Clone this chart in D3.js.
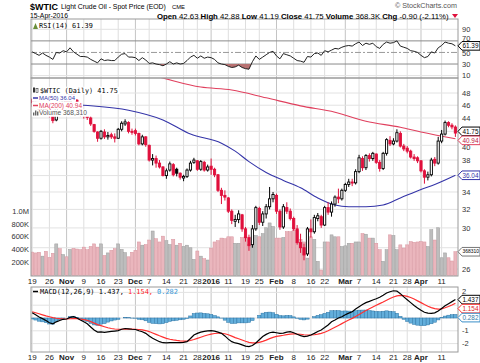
<!DOCTYPE html>
<html>
<head>
<meta charset="utf-8">
<script src="https://cdn.jsdelivr.net/npm/d3@7"></script>
<style>
  body { margin: 0; background: #fff; }
  svg { display: block; font-family: Arial, "Liberation Sans", sans-serif; }
</style>
</head>
<body>
<div id="chart"></div>
<script>
// trading days shown on the chart
const dates = [
  "2015-10-19","2015-10-20","2015-10-21","2015-10-22","2015-10-23","2015-10-26","2015-10-27","2015-10-28","2015-10-29","2015-10-30",
  "2015-11-02","2015-11-03","2015-11-04","2015-11-05","2015-11-06","2015-11-09","2015-11-10","2015-11-11","2015-11-12","2015-11-13",
  "2015-11-16","2015-11-17","2015-11-18","2015-11-19","2015-11-20","2015-11-23","2015-11-24","2015-11-25","2015-11-27","2015-11-30",
  "2015-12-01","2015-12-02","2015-12-03","2015-12-04","2015-12-07","2015-12-08","2015-12-09","2015-12-10","2015-12-11","2015-12-14",
  "2015-12-15","2015-12-16","2015-12-17","2015-12-18","2015-12-21","2015-12-22","2015-12-23","2015-12-24","2015-12-28","2015-12-29",
  "2015-12-30","2015-12-31","2016-01-04","2016-01-05","2016-01-06","2016-01-07","2016-01-08","2016-01-11","2016-01-12","2016-01-13",
  "2016-01-14","2016-01-15","2016-01-19","2016-01-20","2016-01-21","2016-01-22","2016-01-25","2016-01-26","2016-01-27","2016-01-28",
  "2016-01-29","2016-02-01","2016-02-02","2016-02-03","2016-02-04","2016-02-05","2016-02-08","2016-02-09","2016-02-10","2016-02-11",
  "2016-02-12","2016-02-16","2016-02-17","2016-02-18","2016-02-19","2016-02-22","2016-02-23","2016-02-24","2016-02-25","2016-02-26",
  "2016-02-29","2016-03-01","2016-03-02","2016-03-03","2016-03-04","2016-03-07","2016-03-08","2016-03-09","2016-03-10","2016-03-11",
  "2016-03-14","2016-03-15","2016-03-16","2016-03-17","2016-03-18","2016-03-21","2016-03-22","2016-03-23","2016-03-24","2016-03-28",
  "2016-03-29","2016-03-30","2016-03-31","2016-04-01","2016-04-04","2016-04-05","2016-04-06","2016-04-07","2016-04-08","2016-04-11",
  "2016-04-12","2016-04-13","2016-04-14","2016-04-15"
];

const open = [
  46.9, 46.4, 45.9, 45.2, 45.8, 45.0, 44.3, 43.7, 46.3, 46.0,
  46.9, 46.5, 48.1, 46.8, 45.6, 44.5, 44.4, 44.0, 43.0, 41.9,
  41.0, 41.9, 41.2, 41.5, 41.2, 41.0, 42.3, 43.1, 43.3, 42.0,
  42.1, 41.7, 40.2, 41.2, 40.0, 38.0, 38.2, 37.6, 37.1, 36.0,
  36.7, 37.4, 36.8, 36.3, 35.7, 35.9, 36.7, 37.7, 37.9, 36.8,
  37.7, 36.7, 37.2, 36.8, 36.1, 34.2, 33.6, 33.3, 31.8, 30.7,
  30.9, 31.4, 29.9, 29.0, 28.3, 29.9, 32.1, 30.6, 31.5, 32.3,
  33.2, 33.6, 31.8, 30.1, 32.2, 31.8, 31.0, 29.9, 28.5, 28.0,
  27.4, 29.9, 29.6, 31.0, 31.2, 30.3, 32.2, 31.7, 32.6, 33.4,
  33.2, 34.2, 34.9, 35.2, 35.1, 36.5, 38.2, 37.0, 38.6, 38.2,
  38.8, 37.7, 36.9, 38.9, 40.7, 40.2, 40.6, 41.7, 39.9, 39.6,
  39.2, 38.4, 38.3, 37.9, 36.6, 35.8, 36.1, 38.1, 37.6, 40.6,
  41.6, 43.3, 42.9, 42.63
];
const high = [
  47.2, 46.6, 46.1, 46.1, 46.0, 45.2, 44.5, 46.5, 46.6, 47.1,
  47.2, 48.4, 48.2, 47.0, 45.8, 45.0, 44.6, 44.2, 43.1, 42.0,
  42.2, 42.3, 41.9, 41.8, 41.7, 42.5, 43.5, 43.8, 43.5, 42.4,
  42.4, 41.8, 41.5, 41.3, 40.1, 38.8, 38.6, 38.0, 37.2, 36.9,
  37.8, 37.6, 37.0, 36.4, 36.1, 36.9, 37.9, 38.3, 38.0, 38.0,
  37.9, 37.4, 38.2, 37.0, 36.2, 34.5, 34.2, 33.4, 32.0, 31.4,
  31.9, 31.5, 30.1, 29.3, 30.3, 32.4, 32.3, 31.8, 32.6, 34.6,
  34.0, 33.8, 32.0, 32.6, 32.8, 32.1, 31.2, 30.3, 29.4, 28.4,
  30.1, 30.9, 31.4, 31.6, 31.4, 32.4, 32.8, 32.9, 33.6, 34.4,
  34.4, 35.1, 35.6, 35.6, 36.8, 38.7, 38.5, 38.8, 38.9, 39.1,
  38.9, 38.0, 39.1, 41.0, 41.3, 41.0, 42.3, 42.0, 40.2, 39.9,
  39.4, 38.8, 38.5, 38.0, 36.8, 36.5, 38.3, 38.4, 41.2, 42.2,
  43.6, 43.5, 43.2, 42.88
];
const low = [
  45.7, 45.5, 44.9, 44.9, 44.8, 44.1, 43.2, 43.5, 45.7, 45.9,
  46.2, 46.3, 46.7, 45.5, 44.2, 43.9, 43.7, 42.8, 41.8, 40.5,
  40.8, 40.9, 40.8, 40.9, 40.4, 40.9, 42.0, 42.8, 41.7, 41.5,
  41.4, 40.0, 40.0, 39.8, 37.8, 37.3, 37.0, 36.9, 35.9, 35.6,
  36.5, 35.9, 35.9, 35.5, 35.3, 35.7, 36.5, 37.5, 36.6, 36.6,
  36.5, 36.5, 36.1, 35.8, 34.0, 32.6, 33.0, 31.6, 30.4, 30.1,
  30.5, 29.6, 28.6, 27.7, 28.0, 29.7, 30.3, 30.2, 31.0, 32.0,
  32.8, 31.5, 29.8, 29.9, 31.5, 30.8, 29.7, 28.3, 27.5, 26.8,
  27.2, 29.0, 29.4, 30.7, 30.0, 30.2, 31.4, 31.2, 32.3, 32.7,
  33.0, 34.0, 34.6, 34.7, 34.9, 36.3, 36.6, 36.7, 37.8, 37.9,
  37.5, 36.5, 36.7, 38.6, 39.9, 40.0, 40.4, 39.7, 39.2, 38.9,
  38.2, 37.9, 37.6, 36.4, 35.0, 35.4, 35.9, 37.2, 37.4, 40.3,
  41.4, 42.6, 42.3, 41.19
];
const close = [
  46.4, 45.8, 45.2, 45.9, 45.1, 44.4, 43.6, 46.3, 46.1, 46.9,
  46.6, 48.3, 46.9, 45.7, 44.6, 44.5, 44.1, 43.1, 42.0, 41.0,
  42.0, 41.2, 41.4, 41.2, 41.0, 42.3, 43.2, 43.4, 42.0, 41.9,
  41.7, 40.2, 41.2, 40.1, 38.0, 38.2, 37.6, 37.1, 36.0, 36.6,
  37.5, 36.1, 36.3, 35.8, 35.9, 36.7, 37.6, 38.0, 36.8, 37.8,
  36.7, 37.1, 36.8, 36.1, 34.2, 33.6, 33.4, 31.8, 30.8, 30.9,
  31.5, 29.9, 29.0, 28.2, 29.9, 32.2, 30.6, 31.5, 32.3, 33.2,
  33.7, 31.8, 30.1, 32.3, 31.8, 31.0, 29.9, 28.5, 28.0, 27.3,
  29.9, 29.6, 31.1, 31.3, 30.3, 32.2, 31.7, 32.6, 33.4, 33.2,
  34.2, 34.9, 35.2, 35.1, 36.5, 38.3, 37.0, 38.6, 38.2, 38.9,
  37.7, 36.9, 38.9, 40.8, 40.2, 40.6, 41.8, 39.9, 39.5, 39.2,
  38.4, 38.2, 37.9, 36.6, 35.8, 36.1, 38.0, 37.6, 40.6, 41.6,
  43.3, 42.9, 42.65, 41.75
];
// volume in thousands
const volume = [
  363, 350, 360, 300, 375, 280, 345, 490, 415, 325,
  290, 405, 420, 410, 400, 440, 400, 450, 490, 440,
  490, 310, 350, 390, 415, 490, 405, 355, 290, 360,
  390, 520, 470, 480, 550, 690, 570, 520, 610, 540,
  480, 560, 470, 500, 450, 470, 430, 250, 380, 300,
  260, 240, 425, 520, 540, 580, 570, 600, 600, 500,
  500, 590, 600, 480, 600, 620, 600, 650, 740, 815,
  760, 580, 580, 590, 680, 680, 700, 700, 560, 520,
  270, 600, 560, 220, 85, 520, 520, 630, 600, 600,
  450, 460, 500, 500, 520, 520, 650, 640, 580, 580,
  500, 400, 220, 400, 630, 620, 400, 475, 425, 475,
  525, 515, 520, 525, 520, 450, 710, 550, 740, 275,
  350, 275, 225, 368.31
];

// moving averages read at selected days
const ma50Dates = ["2015-10-19","2015-11-09","2015-11-27","2015-12-11","2015-12-23","2016-01-07","2016-01-13","2016-01-20","2016-01-27","2016-02-03","2016-02-10","2016-02-18","2016-02-25","2016-03-02","2016-03-09","2016-03-16","2016-03-23","2016-04-01","2016-04-07","2016-04-15"];
const ma50 = [46.5, 46.0, 45.2, 43.7, 41.6, 40.3, 39.2, 37.8, 36.4, 35.4, 34.5, 33.3, 32.5, 32.3, 32.3, 32.5, 33.3, 34.3, 34.9, 36.04];
const ma200Dates = ["2015-10-19","2015-11-16","2015-12-08","2015-12-29","2016-01-12","2016-01-27","2016-02-10","2016-02-25","2016-03-09","2016-03-23","2016-04-01","2016-04-15"];
const ma200 = [54.5, 52.6, 51.0, 49.0, 48.5, 47.2, 45.9, 44.9, 43.5, 42.6, 41.9, 40.94];

const rsi = [
  51, 48, 45, 49, 45, 42, 38, 50, 49, 53,
  51, 58, 51, 47, 43, 43, 42, 38, 35, 32,
  39, 36, 37, 36, 36, 42, 47, 48, 42, 42,
  41, 36, 41, 37, 31, 32, 30, 29, 27, 30,
  34, 30, 32, 30, 31, 36, 42, 45, 40, 44,
  40, 42, 41, 38, 32, 30, 29, 26, 24, 25,
  28, 24, 22, 21, 34, 44, 38, 42, 46, 50,
  52, 44, 39, 48, 46, 44, 40, 36, 35, 33,
  43, 42, 48, 49, 45, 53, 51, 54, 57, 56,
  59, 61, 62, 61, 65, 68, 62, 66, 64, 66,
  60, 57, 64, 68, 66, 67, 70, 61, 59, 57,
  53, 52, 50, 45, 41, 43, 51, 49, 58, 62,
  68, 66, 65, 61.39
];
const macd = [
  0.41, 0.25, 0.08, -0.05, -0.2, -0.37, -0.45, -0.3, -0.2, -0.1,
  -0.08, 0.05, 0.1, 0.0, -0.16, -0.3, -0.45, -0.7, -0.94, -1.1,
  -1.08, -1.12, -1.08, -1.05, -1.02, -0.99, -0.88, -0.82, -0.85, -0.88,
  -0.9, -1.0, -1.07, -1.2, -1.4, -1.59, -1.72, -1.85, -1.93, -1.95,
  -1.92, -1.93, -1.93, -1.92, -1.9, -1.85, -1.6, -1.33, -1.2, -1.1,
  -1.05, -1.0, -0.98, -1.02, -1.1, -1.2, -1.4, -1.65, -1.85, -1.95,
  -2.0, -2.1, -2.2, -2.24, -2.15, -1.95, -1.7, -1.45, -1.28, -1.15,
  -1.1, -1.15, -1.2, -1.18, -1.1, -1.07, -1.15, -1.27, -1.38, -1.46,
  -1.42, -1.33, -1.2, -1.05, -0.94, -0.75, -0.55, -0.29, -0.15, 0.0,
  0.1, 0.25, 0.38, 0.49, 0.7, 0.88, 1.05, 1.2, 1.3, 1.41,
  1.5, 1.62, 1.78, 1.95, 2.05, 2.13, 2.1, 1.9, 1.65, 1.42,
  1.2, 0.98, 0.78, 0.6, 0.45, 0.38, 0.36, 0.4, 0.55, 0.75,
  0.95, 1.12, 1.28, 1.437
];
const signal = [
  0.49, 0.41, 0.33, 0.25, 0.17, 0.1, 0.03, -0.02, -0.05, -0.07,
  -0.08, -0.06, -0.04, -0.05, -0.08, -0.12, -0.18, -0.28, -0.4, -0.52,
  -0.6, -0.68, -0.76, -0.82, -0.86, -0.88, -0.88, -0.87, -0.87, -0.87,
  -0.88, -0.9, -0.93, -0.98, -1.06, -1.17, -1.28, -1.39, -1.49, -1.59,
  -1.66, -1.71, -1.75, -1.78, -1.8, -1.8, -1.76, -1.68, -1.59, -1.5,
  -1.41, -1.33, -1.26, -1.21, -1.19, -1.19, -1.23, -1.31, -1.42, -1.53,
  -1.62, -1.72, -1.82, -1.9, -1.95, -1.95, -1.91, -1.83, -1.73, -1.61,
  -1.51, -1.44, -1.39, -1.35, -1.3, -1.26, -1.24, -1.25, -1.27, -1.31,
  -1.33, -1.33, -1.31, -1.26, -1.2, -1.11, -1.0, -0.86, -0.72, -0.58,
  -0.44, -0.3, -0.16, -0.03, 0.12, 0.27, 0.43, 0.58, 0.72, 0.86,
  0.99, 1.12, 1.25, 1.39, 1.52, 1.64, 1.73, 1.77, 1.75, 1.69,
  1.6, 1.48, 1.34, 1.2, 1.05, 0.92, 0.81, 0.73, 0.7, 0.71,
  0.8, 0.9, 1.02, 1.154
];

const tickDates = ["2015-10-19","2015-10-26","2015-11-02","2015-11-09","2015-11-16","2015-11-23","2015-12-01","2015-12-07","2015-12-14","2015-12-21","2015-12-28","2016-01-04","2016-01-11","2016-01-19","2016-01-25","2016-02-01","2016-02-08","2016-02-16","2016-02-22","2016-03-01","2016-03-07","2016-03-14","2016-03-21","2016-03-28","2016-04-01","2016-04-11"];
const tickText = ["19","26","Nov","9","16","23","Dec","7","14","21","28","2016","11","19","25","Feb","8","16","22","Mar","7","14","21","28","Apr","11"];
const monthTicks = ["Nov","Dec","2016","Feb","Mar","Apr"];
const priceTicks = [26, 28, 30, 32, 34, 36, 38, 40, 42, 44, 46, 48];
const volTicks = [200, 400, 600, 800, 1000];
const volTickText = ["200K", "400K", "600K", "800K", "1.0M"];
const rsiTicks = [10, 30, 50, 70, 90];
const macdTicks = [-2, -1, 0, 1, 2];

const width = 480, height = 363;
const left = 31, right = 458;
const rsiP = { top: 19, bottom: 78 },
      priceP = { top: 78, bottom: 276 },
      macdP = { top: 287, bottom: 352 };

const svg = d3.select("#chart").append("svg")
    .attr("width", width)
    .attr("height", height)
    .attr("viewBox", [0, 0, width, height]);

const x = d3.scalePoint().domain(dates).range([32.2, 455.4]);
const y = d3.scaleLog().domain([26, 48]).range([269, 93]);
const yVol = d3.scaleLinear().domain([0, 1000]).range([275.5, 211]);
const yRsi = d3.scaleLinear().domain([10, 90]).range([75.6, 29.3]);
const yMacd = d3.scaleLinear().domain([-2, 2]).range([343.6, 292.4]);
const step = x.step();

const defs = svg.append("defs");
function clip(id, p) {
    defs.append("clipPath").attr("id", id)
        .append("rect").attr("x", left).attr("y", p.top).attr("width", right - left).attr("height", p.bottom - p.top);
}
clip("cRsi", rsiP); clip("cPrice", priceP); clip("cMacd", macdP);

// vertical grid in all panels
[rsiP, priceP, macdP].forEach(p => {
    svg.append("g").selectAll("line").data(tickDates).join("line")
        .attr("x1", d => x(d)).attr("x2", d => x(d))
        .attr("y1", p.top).attr("y2", p.bottom)
        .attr("stroke", (d, i) => monthTicks.includes(tickText[i]) ? "#c4c4c4" : "#dedede")
        .attr("stroke-width", 1);
});

// ---------- RSI panel ----------
svg.append("g").selectAll("line").data(rsiTicks).join("line")
    .attr("x1", left).attr("x2", right)
    .attr("y1", d => yRsi(d)).attr("y2", d => yRsi(d))
    .attr("stroke", d => (d === 70 || d === 30) ? "#8a8a8a" : (d === 50 ? "#999" : "#e2e2e2"))
    .attr("stroke-dasharray", d => d === 50 ? "6,2,2,2" : null);

const rsiLine = d3.line().x((d, i) => x(dates[i])).y(d => yRsi(d));
defs.append("clipPath").attr("id", "cRsiLow")
    .append("rect").attr("x", left).attr("y", yRsi(30)).attr("width", right - left).attr("height", rsiP.bottom - yRsi(30));
svg.append("path")
    .datum(rsi)
    .attr("clip-path", "url(#cRsiLow)")
    .attr("fill", "#b87272")
    .attr("d", d3.area().x((d, i) => x(dates[i])).y0(yRsi(30)).y1(d => yRsi(d)));
svg.append("path")
    .datum(rsi)
    .attr("clip-path", "url(#cRsi)")
    .attr("fill", "none")
    .attr("stroke", "#222")
    .attr("stroke-width", 1)
    .attr("d", rsiLine);

// ---------- price panel ----------
const pg = svg.append("g").attr("clip-path", "url(#cPrice)");
pg.selectAll(".hg").data(priceTicks).join("line")
    .attr("x1", left).attr("x2", right)
    .attr("y1", d => y(d)).attr("y2", d => y(d))
    .attr("stroke", "#e2e2e2");

const up = close.map((c, i) => i === 0 ? c >= open[0] : c >= close[i - 1]);

pg.selectAll(".vol").data(volume).join("rect")
    .attr("x", (d, i) => x(dates[i]) - step / 2 + 0.2)
    .attr("width", step - 0.4)
    .attr("y", d => yVol(d))
    .attr("height", d => yVol(0) - yVol(d))
    .attr("fill", (d, i) => up[i] ? "#bdbdbd" : "#eab6bd")
    .attr("stroke", (d, i) => up[i] ? "#9d9d9d" : "#d8949e")
    .attr("stroke-width", 0.5);

const maLine = (ds) => d3.line().curve(d3.curveMonotoneX).x((d, i) => x(ds[i])).y(d => y(d));
pg.append("path").datum(ma200).attr("fill", "none").attr("stroke", "#e0405e").attr("stroke-width", 1.1).attr("d", maLine(ma200Dates));
pg.append("path").datum(ma50).attr("fill", "none").attr("stroke", "#3434a8").attr("stroke-width", 1.1).attr("d", maLine(ma50Dates));

const candle = pg.selectAll(".candle").data(close).join("g").attr("class", "candle");
candle.append("line")
    .attr("x1", (d, i) => x(dates[i])).attr("x2", (d, i) => x(dates[i]))
    .attr("y1", (d, i) => y(high[i])).attr("y2", (d, i) => y(low[i]))
    .attr("stroke", (d, i) => up[i] ? "#000" : "#e0103c")
    .attr("stroke-width", 1);
candle.append("rect")
    .attr("x", (d, i) => x(dates[i]) - 1.1)
    .attr("width", 2.2)
    .attr("y", (d, i) => y(Math.max(open[i], d)))
    .attr("height", (d, i) => Math.max(1, Math.abs(y(open[i]) - y(d))))
    .attr("fill", (d, i) => d < open[i] ? (up[i] ? "#000" : "#e0103c") : "#fff")
    .attr("stroke", (d, i) => up[i] ? "#000" : "#e0103c")
    .attr("stroke-width", 0.9);

// ---------- MACD panel ----------
svg.append("g").selectAll("line").data(macdTicks).join("line")
    .attr("x1", left).attr("x2", right)
    .attr("y1", d => yMacd(d)).attr("y2", d => yMacd(d))
    .attr("stroke", "#e2e2e2");
const mg = svg.append("g").attr("clip-path", "url(#cMacd)");
// histogram = MACD minus signal
mg.selectAll(".hist").data(macd).join("rect")
    .attr("x", (d, i) => x(dates[i]) - step / 2)
    .attr("width", step)
    .attr("y", (d, i) => yMacd(Math.max(0, d - signal[i])))
    .attr("height", (d, i) => Math.abs(yMacd(d - signal[i]) - yMacd(0)))
    .attr("fill", "#62aedb")
    .attr("stroke", "#2f76a6")
    .attr("stroke-width", 0.5);
const mLine = d3.line().x((d, i) => x(dates[i])).y(d => yMacd(d));
mg.append("path").datum(signal).attr("fill", "none").attr("stroke", "#ff3030").attr("stroke-width", 1.2).attr("d", mLine);
mg.append("path").datum(macd).attr("fill", "none").attr("stroke", "#000").attr("stroke-width", 1.2).attr("d", mLine);

// panel borders
[rsiP, priceP, macdP].forEach(p => {
    svg.append("rect").attr("x", left).attr("y", p.top).attr("width", right - left).attr("height", p.bottom - p.top)
        .attr("fill", "none").attr("stroke", "#9a9a9a");
});

// ---------- value tags on the right (placed first so covered axis labels can be left out) ----------
function placeTags(list, pushDown) {
    list.sort((a, b) => a.y - b.y);
    for (let i = 1; i < list.length; i++) {
        if (list[i].y - list[i - 1].y < 9) {
            if (pushDown) {
                list[i].y = list[i - 1].y + 9;
            } else {
                const mid = (list[i].y + list[i - 1].y) / 2;
                list[i - 1].y = mid - 4.5; list[i].y = mid + 4.5;
            }
        }
    }
    return list;
}
const rsiTags = placeTags([{ y: yRsi(61.39), label: "61.39", color: "#000" }]);
const priceTags = placeTags([
    { y: y(41.75), label: "41.75", color: "#000" },
    { y: y(40.94), label: "40.94", color: "#e0405e", text: "#c02040" },
    { y: y(36.04), label: "36.04", color: "#3434a8", text: "#3434a8" },
    { y: yVol(368.31), label: "368310", color: "#777" }
]);
const macdTags = placeTags([
    { y: yMacd(1.437), label: "1.437", color: "#000" },
    { y: yMacd(1.154), label: "1.154", color: "#ff3030", text: "#e02020" },
    { y: yMacd(0.282), label: "0.282", color: "#3a8fc8", text: "#2f76a6" }
], true);

// ---------- axes labels ----------
// labels hidden under a tag are left out; labels just next to one are nudged clear of it
function rightLabels(ticks, scale, tagList) {
    const shown = ticks.filter(t => tagList.every(g => Math.abs(scale(t) - g.y) >= 4.4));
    const pos = t => {
        let yy = scale(t);
        tagList.forEach(g => {
            const dist = yy - g.y;
            if (Math.abs(dist) < 8) yy += Math.sign(dist) * Math.min(2.2, 8 - Math.abs(dist));
        });
        return yy;
    };
    svg.append("g").selectAll("text").data(shown).join("text")
        .attr("x", right + 4).attr("y", d => pos(d)).attr("dy", "0.35em")
        .attr("font-size", 7.5).attr("fill", "#333")
        .text(d => d);
}
rightLabels(rsiTicks, yRsi, rsiTags);
rightLabels(priceTicks, y, priceTags);
rightLabels(macdTicks, yMacd, macdTags);

svg.append("g").selectAll("text").data(volTicks).join("text")
    .attr("x", left - 2).attr("y", d => yVol(d)).attr("dy", "0.35em")
    .attr("text-anchor", "end").attr("font-size", 7.5).attr("fill", "#333")
    .text((d, i) => volTickText[i]);

[284, 360].forEach(yy => {
    svg.append("g").selectAll("text").data(tickDates).join("text")
        .attr("x", d => x(d)).attr("y", yy)
        .attr("text-anchor", "middle").attr("font-size", 8)
        .attr("font-weight", (d, i) => monthTicks.includes(tickText[i]) ? "bold" : "normal")
        .attr("fill", "#222")
        .text((d, i) => tickText[i]);
});

// draw the tags
function fit(t, w) {
    const l = t.node().getComputedTextLength();
    const s = +t.attr("font-size");
    if (l > 0) t.attr("font-size", s * w / l);
    return t;
}
[...rsiTags, ...priceTags, ...macdTags].forEach(t => {
    svg.append("path")
        .attr("d", `M${right},${t.y} L${right + 4},${t.y - 4.3} L${width},${t.y - 4.3} L${width},${t.y + 4.3} L${right + 4},${t.y + 4.3} Z`)
        .attr("fill", "#fff").attr("stroke", t.color).attr("stroke-width", 1);
    const tx = svg.append("text").attr("x", right + 4.5).attr("y", t.y).attr("dy", "0.35em")
        .attr("font-size", 7.5).attr("fill", t.text || "#000")
        .text(t.label);
    fit(tx, t.label.length > 5 ? 16.5 : 16);
});

// ---------- legends ----------
const mono = "'DejaVu Sans Mono', 'Liberation Mono', monospace";
function label(xx, yy, txt, w, opts = {}) {
    const t = svg.append("text").attr("x", xx).attr("y", yy).attr("dy", "0.35em")
        .attr("font-size", opts.size || 8)
        .attr("font-family", opts.mono ? mono : null)
        .attr("font-weight", opts.bold ? "bold" : null)
        .attr("fill", opts.color || "#000")
        .text(txt);
    if (w) fit(t, w);
    return t;
}
function bg(xx, yy, w) {
    svg.append("rect").attr("x", xx).attr("y", yy - 3.8).attr("width", w).attr("height", 7.6).attr("fill", "#fff");
}

// price legend with white background
bg(left + 1, 90.5, 88); bg(left + 1, 98, 44); bg(left + 1, 105.5, 51); bg(left + 1, 113, 57);
svg.append("rect").attr("x", 33).attr("y", 87.5).attr("width", 2).attr("height", 5).attr("fill", "#333");
svg.append("rect").attr("x", 36).attr("y", 88.5).attr("width", 2).attr("height", 4).attr("fill", "#fff").attr("stroke", "#333").attr("stroke-width", 0.6);
label(40, 90.5, "$WTIC (Daily) 41.75", 78, { mono: true });
svg.append("line").attr("x1", 33).attr("x2", 38).attr("y1", 98).attr("y2", 98).attr("stroke", "#3434a8").attr("stroke-width", 1.5);
label(39, 98, "MA(50) 36.04", 36, { color: "#3434a8" });
svg.append("line").attr("x1", 33).attr("x2", 38).attr("y1", 105.5).attr("y2", 105.5).attr("stroke", "#e0405e").attr("stroke-width", 1.5);
label(39, 105.5, "MA(200) 40.94", 43, { color: "#e0405e" });
[[33, 3], [35, 5], [37, 4]].forEach(b => svg.append("rect").attr("x", b[0]).attr("y", 115.5 - b[1]).attr("width", 1.4).attr("height", b[1]).attr("fill", "#666"));
label(39, 113, "Volume 368,310", 48, { color: "#555" });

// RSI legend
svg.append("path").attr("d", "M33,29 L35.5,23 L38,29 Z").attr("fill", "#6a8f3a");
label(39, 25.5, "RSI(14) 61.39", 54, { mono: true });

// MACD legend, pieces placed one after another
svg.append("line").attr("x1", 33).attr("x2", 38).attr("y1", 291.5).attr("y2", 291.5).attr("stroke", "#000").attr("stroke-width", 1.5);
const macdParts = [["MACD(12,26,9) 1.437,", "#000", 84], ["1.154,", "#ff2020", 25], ["0.282", "#3a9ad8", 21]];
let mx = 40;
macdParts.forEach(p => {
    label(mx, 291.5, p[0], p[2], { mono: true, color: p[1] });
    mx += p[2] + 4;
});

// ---------- header ----------
label(30, 6.5, "$WTIC", 28, { bold: true });
label(61, 6.5, "Light Crude Oil - Spot Price (EOD)", 105);
label(172, 7, "CME", 13);
label(395, 5.5, "© StockCharts.com", 62, { color: "#555" });
label(30, 16, "15-Apr-2016", 38);
const headParts = [
    ["Open", true], ["42.63", false], ["High", true], ["42.88", false],
    ["Low", true], ["41.19", false], ["Close", true], ["41.75", false],
    ["Volume", true], ["368.3K", false], ["Chg", true], ["-0.90 (-2.11%)", false]
];
const head = svg.append("text").attr("x", 157).attr("y", 16).attr("dy", "0.35em").attr("font-size", 8);
headParts.forEach((p, i) => head.append("tspan")
    .attr("font-weight", p[1] ? "bold" : null)
    .text((i > 0 ? (p[1] ? "  " : " ") : "") + p[0]));
fit(head, 292);
svg.append("path").attr("d", "M452,14 L458,14 L455,18 Z").attr("fill", "#e0103c");
</script>
</body>
</html>
